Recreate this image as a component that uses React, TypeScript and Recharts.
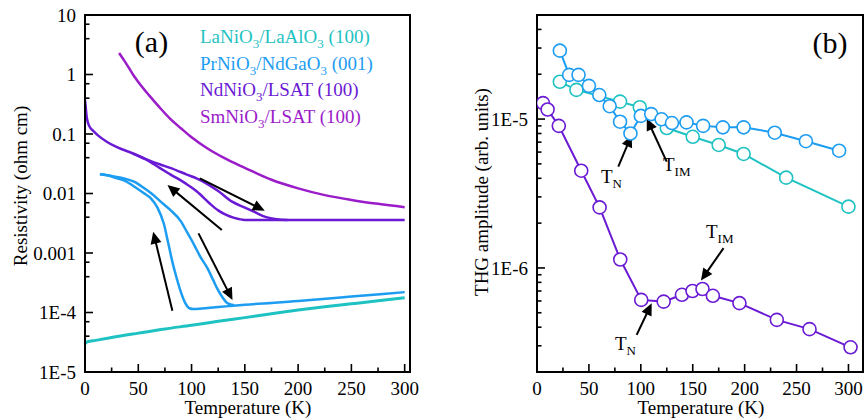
import React from 'react';
import { LineChart, Line, XAxis, YAxis, ReferenceLine, ReferenceArea } from 'recharts';

type P = { T: number; v: number };

// ---------- Panel (a): resistivity ----------
const laNiO3: P[] = [
  { T: 0, v: 3.0e-5 }, { T: 2, v: 3.2e-5 }, { T: 10, v: 3.4e-5 }, { T: 25, v: 3.8e-5 },
  { T: 50, v: 4.5e-5 }, { T: 75, v: 5.3e-5 }, { T: 100, v: 6.1e-5 }, { T: 125, v: 7.1e-5 },
  { T: 150, v: 8.2e-5 }, { T: 175, v: 9.5e-5 }, { T: 200, v: 1.1e-4 }, { T: 225, v: 1.25e-4 },
  { T: 250, v: 1.4e-4 }, { T: 275, v: 1.57e-4 }, { T: 300, v: 1.77e-4 },
];

const prNiO3Cooling: P[] = [
  { T: 14, v: 0.021 }, { T: 20, v: 0.0205 }, { T: 30, v: 0.018 }, { T: 37, v: 0.0165 },
  { T: 45, v: 0.0135 }, { T: 55, v: 0.0102 }, { T: 62, v: 0.0082 }, { T: 68, v: 0.0058 },
  { T: 74, v: 0.0031 }, { T: 78, v: 0.0015 }, { T: 82, v: 7.1e-4 }, { T: 86, v: 3.8e-4 },
  { T: 90, v: 2.2e-4 }, { T: 94, v: 1.45e-4 }, { T: 98, v: 1.18e-4 }, { T: 102, v: 1.14e-4 },
  { T: 110, v: 1.17e-4 }, { T: 135, v: 1.28e-4 }, { T: 150, v: 1.35e-4 }, { T: 200, v: 1.56e-4 },
  { T: 250, v: 1.85e-4 }, { T: 300, v: 2.2e-4 },
];

const prNiO3Warming: P[] = [
  { T: 14, v: 0.021 }, { T: 25, v: 0.0197 }, { T: 35, v: 0.0182 }, { T: 46, v: 0.0158 },
  { T: 55, v: 0.0125 }, { T: 63, v: 0.0098 }, { T: 71, v: 0.0073 }, { T: 80, v: 0.0053 },
  { T: 90, v: 0.0034 }, { T: 96, v: 0.0022 }, { T: 102.5, v: 0.00136 }, { T: 108, v: 8.8e-4 },
  { T: 115, v: 5.5e-4 }, { T: 120, v: 3.6e-4 }, { T: 124, v: 2.55e-4 }, { T: 129, v: 1.8e-4 },
  { T: 134, v: 1.42e-4 }, { T: 140, v: 1.32e-4 },
];

const ndNiO3Cooling: P[] = [
  { T: 0, v: 0.37 }, { T: 0.7, v: 0.28 }, { T: 1.5, v: 0.2 }, { T: 3, v: 0.15 },
  { T: 5, v: 0.127 }, { T: 8, v: 0.112 }, { T: 13, v: 0.092 }, { T: 20, v: 0.075 },
  { T: 30, v: 0.06 }, { T: 45, v: 0.047 }, { T: 60, v: 0.035 }, { T: 70, v: 0.027 },
  { T: 80, v: 0.021 }, { T: 95, v: 0.0145 }, { T: 105, v: 0.0108 }, { T: 117, v: 0.0068 },
  { T: 125, v: 0.0052 }, { T: 132, v: 0.0044 }, { T: 140, v: 0.0039 }, { T: 150, v: 0.0036 },
  { T: 175, v: 0.0036 }, { T: 200, v: 0.0036 }, { T: 250, v: 0.0036 }, { T: 300, v: 0.0036 },
];

const ndNiO3Warming: P[] = [
  { T: 45, v: 0.047 }, { T: 60, v: 0.036 }, { T: 70, v: 0.031 }, { T: 80, v: 0.027 },
  { T: 95, v: 0.021 }, { T: 110, v: 0.0162 }, { T: 125, v: 0.011 }, { T: 138, v: 0.0073 },
  { T: 150, v: 0.0058 }, { T: 160, v: 0.0048 }, { T: 170, v: 0.004 }, { T: 180, v: 0.0037 },
  { T: 190, v: 0.0036 },
];

const smNiO3: P[] = [
  { T: 32, v: 2.3 }, { T: 36, v: 1.8 }, { T: 40, v: 1.4 }, { T: 45, v: 1.0 }, { T: 50, v: 0.75 },
  { T: 60, v: 0.45 }, { T: 70, v: 0.28 }, { T: 80, v: 0.18 }, { T: 90, v: 0.125 }, { T: 100, v: 0.088 },
  { T: 115, v: 0.057 }, { T: 130, v: 0.04 }, { T: 150, v: 0.027 }, { T: 175, v: 0.017 },
  { T: 200, v: 0.0122 }, { T: 225, v: 0.0094 }, { T: 250, v: 0.0078 }, { T: 275, v: 0.0067 },
  { T: 300, v: 0.0059 },
];

// ---------- Panel (b): THG amplitude ----------
const thgLaNiO3: P[] = [
  { T: 22, v: 1.78e-5 }, { T: 38, v: 1.57e-5 }, { T: 80, v: 1.31e-5 }, { T: 99, v: 1.2e-5 },
  { T: 125, v: 8.7e-6 }, { T: 150, v: 7.6e-6 }, { T: 175, v: 6.7e-6 }, { T: 199, v: 5.83e-6 },
  { T: 240, v: 4.04e-6 }, { T: 300, v: 2.58e-6 },
];

const thgPrNiO3: P[] = [
  { T: 22, v: 2.88e-5 }, { T: 31, v: 1.98e-5 }, { T: 40, v: 1.98e-5 }, { T: 50, v: 1.67e-5 },
  { T: 60, v: 1.45e-5 }, { T: 70, v: 1.22e-5 }, { T: 80, v: 9.6e-6 }, { T: 90, v: 8.0e-6 },
  { T: 100, v: 1.05e-5 }, { T: 110, v: 1.08e-5 }, { T: 120, v: 9.96e-6 }, { T: 130, v: 9.4e-6 },
  { T: 144, v: 9.5e-6 }, { T: 160, v: 9.0e-6 }, { T: 179, v: 8.8e-6 }, { T: 199, v: 8.8e-6 },
  { T: 229, v: 8.1e-6 }, { T: 259, v: 7.1e-6 }, { T: 291, v: 6.13e-6 },
];

const thgNdNiO3: P[] = [
  { T: 5.8, v: 1.28e-5 }, { T: 10.2, v: 1.16e-5 }, { T: 21, v: 9.0e-6 }, { T: 42.6, v: 4.5e-6 },
  { T: 60.3, v: 2.55e-6 }, { T: 80.2, v: 1.14e-6 }, { T: 100.4, v: 6.1e-7 }, { T: 122, v: 5.94e-7 },
  { T: 139.6, v: 6.6e-7 }, { T: 149.8, v: 7.0e-7 }, { T: 159.4, v: 7.22e-7 }, { T: 169.4, v: 6.5e-7 },
  { T: 195, v: 5.8e-7 }, { T: 231, v: 4.48e-7 }, { T: 262.5, v: 3.88e-7 }, { T: 302, v: 2.93e-7 },
];

// ---------- ticks ----------
const xTicks = [0, 25, 50, 75, 100, 125, 150, 175, 200, 225, 250, 275, 300];
const xMajorTicks = [0, 50, 100, 150, 200, 250, 300];

const resMajorTicks = [1e-5, 1e-4, 1e-3, 1e-2, 0.1, 1, 10];
const resMajorLabels = ['1E-5', '1E-4', '0.001', '0.01', '0.1', '1', '10'];
const resMinorTicks = [4e-5, 7e-5, 4e-4, 7e-4, 0.004, 0.007, 0.04, 0.07, 0.4, 0.7, 4, 7];

const thgMajorTicks = [1e-6, 1e-5];
const thgMajorLabels = ['1E-6', '1E-5'];
const thgMinorTicks = [
  3e-7, 4e-7, 5e-7, 6e-7, 7e-7, 8e-7, 9e-7,
  2e-6, 3e-6, 4e-6, 5e-6, 6e-6, 7e-6, 8e-6, 9e-6,
  2e-5, 3e-5, 4e-5, 5e-5,
];

// ---------- style ----------
const FONT = '"Liberation Serif", "Times New Roman", serif';
const FS = 19;
const C_LA = '#1fc2c2';
const C_PR = '#1d9df2';
const C_ND = '#6a1ad4';
const C_SM = '#9b1cc9';

const near = (a: number, b: number) => Math.abs(a - b) <= Math.abs(b) * 1e-6;

function makeYTick(majors: number[], labels: string[]) {
  return (props: any) => {
    const { x, y, payload } = props;
    const idx = majors.findIndex((m) => near(payload.value, m));
    const major = idx >= 0;
    return (
      <g>
        <line x1={x} y1={y} x2={x + (major ? 8 : 4.5)} y2={y} stroke="#000" strokeWidth={1.6} />
        {major && (
          <text x={x - 9} y={y} dy="0.35em" textAnchor="end" fontFamily={FONT} fontSize={FS} fill="#000">
            {labels[idx]}
          </text>
        )}
      </g>
    );
  };
}

function XTick(props: any) {
  const { x, y, payload } = props;
  const major = xMajorTicks.includes(payload.value);
  return (
    <g>
      <line x1={x} y1={y} x2={x} y2={y - (major ? 8 : 4.5)} stroke="#000" strokeWidth={1.6} />
      {major && (
        <text x={x} y={y + 23} textAnchor="middle" fontFamily={FONT} fontSize={FS} fill="#000">
          {payload.value}
        </text>
      )}
    </g>
  );
}

const Arrow = (p: any) => {
  const { x1, y1, x2, y2 } = p;
  const dx = x2 - x1;
  const dy = y2 - y1;
  const L = Math.hypot(dx, dy) || 1;
  const ux = dx / L;
  const uy = dy / L;
  const hl = 12;
  const hw = 5.5;
  const bx = x2 - ux * hl;
  const by = y2 - uy * hl;
  const pts = `${x2},${y2} ${bx - uy * hw},${by + ux * hw} ${bx + uy * hw},${by - ux * hw}`;
  return (
    <g>
      <line x1={x1} y1={y1} x2={bx + ux * 2} y2={by + uy * 2} stroke="#000" strokeWidth={2} />
      <polygon points={pts} fill="#000" />
    </g>
  );
};

const resArrows = [
  [{ x: 82, y: 1.07e-4 }, { x: 64, y: 0.00228 }],
  [{ x: 106.5, y: 0.00214 }, { x: 138.4, y: 1.62e-4 }],
  [{ x: 128.4, y: 0.00244 }, { x: 77.4, y: 0.0139 }],
  [{ x: 107.8, y: 0.018 }, { x: 168.7, y: 0.00514 }],
];

const thgArrows = [
  [{ x: 78.3, y: 4.79e-6 }, { x: 91.2, y: 7.82e-6 }],
  [{ x: 124.9, y: 5.18e-6 }, { x: 105.7, y: 1.01e-5 }],
  [{ x: 96, y: 3.55e-7 }, { x: 110.5, y: 5.79e-7 }],
  [{ x: 179.7, y: 1.36e-6 }, { x: 157.9, y: 8.22e-7 }],
];

const lineA = { dot: false, isAnimationActive: false, strokeWidth: 2.5, type: 'monotone' as const, dataKey: 'v' };

function dotStyle(color: string) {
  return { r: 6.5, fill: '#fff', stroke: color, strokeWidth: 1.6 };
}

function Sub({ children }: { children: React.ReactNode }) {
  return null;
}

export default function App() {
  const resTickAll = [...resMajorTicks, ...resMinorTicks].sort((a, b) => a - b);
  const thgTickAll = [...thgMajorTicks, ...thgMinorTicks].sort((a, b) => a - b);

  const legend = [
    { c: C_LA, parts: ['LaNiO', '3', '/LaAlO', '3', ' (100)'] },
    { c: C_PR, parts: ['PrNiO', '3', '/NdGaO', '3', ' (001)'] },
    { c: C_ND, parts: ['NdNiO', '3', '/LSAT (100)'] },
    { c: C_SM, parts: ['SmNiO', '3', '/LSAT (100)'] },
  ];

  return (
    <div style={{ position: 'absolute', left: 0, top: 0, width: 865, height: 418, background: '#fff' }}>
      <div style={{ position: 'absolute', left: 0, top: 0 }}>
        <LineChart width={430} height={418} margin={{ top: 15, right: 20, bottom: 16, left: 25 }}>
          <XAxis
            dataKey="T"
            type="number"
            domain={[0, 305]}
            ticks={xTicks}
            allowDataOverflow
            height={30}
            tickSize={0}
            tickMargin={0}
            tickLine={false}
            axisLine={{ stroke: '#000', strokeWidth: 2 }}
            tick={XTick}
            interval={0}
          />
          <YAxis
            type="number"
            scale="log"
            domain={[1e-5, 10]}
            ticks={resTickAll}
            allowDataOverflow
            width={60}
            tickSize={0}
            tickMargin={0}
            tickLine={false}
            axisLine={{ stroke: '#000', strokeWidth: 2 }}
            tick={makeYTick(resMajorTicks, resMajorLabels)}
            interval={0}
          />
          <Line {...lineA} data={laNiO3} stroke={C_LA} strokeWidth={3} />
          <Line {...lineA} data={prNiO3Cooling} stroke={C_PR} />
          <Line {...lineA} data={prNiO3Warming} stroke={C_PR} />
          <Line {...lineA} data={ndNiO3Cooling} stroke={C_ND} />
          <Line {...lineA} data={ndNiO3Warming} stroke={C_ND} />
          <Line {...lineA} data={smNiO3} stroke={C_SM} />
          {resArrows.map((s, i) => (
            <ReferenceLine key={i} segment={s} shape={Arrow} ifOverflow="visible" />
          ))}
          <ReferenceArea x1={0} x2={305} y1={1e-5} y2={10} fill="none" stroke="#000" strokeWidth={2} ifOverflow="visible" />
        </LineChart>
      </div>

      <div style={{ position: 'absolute', left: 430, top: 0 }}>
        <LineChart width={435} height={418} margin={{ top: 15, right: 2, bottom: 16, left: 47 }}>
          <XAxis
            dataKey="T"
            type="number"
            domain={[0, 314]}
            ticks={xTicks}
            allowDataOverflow
            height={30}
            tickSize={0}
            tickMargin={0}
            tickLine={false}
            axisLine={{ stroke: '#000', strokeWidth: 2 }}
            tick={XTick}
            interval={0}
          />
          <YAxis
            type="number"
            scale="log"
            domain={[2e-7, 5e-5]}
            ticks={thgTickAll}
            allowDataOverflow
            width={60}
            tickSize={0}
            tickMargin={0}
            tickLine={false}
            axisLine={{ stroke: '#000', strokeWidth: 2 }}
            tick={makeYTick(thgMajorTicks, thgMajorLabels)}
            interval={0}
          />
          <Line dataKey="v" data={thgLaNiO3} type="linear" stroke={C_LA} strokeWidth={2} dot={dotStyle(C_LA)} isAnimationActive={false} />
          <Line dataKey="v" data={thgPrNiO3} type="linear" stroke={C_PR} strokeWidth={2} dot={dotStyle(C_PR)} isAnimationActive={false} />
          <Line dataKey="v" data={thgNdNiO3} type="linear" stroke={C_ND} strokeWidth={2} dot={dotStyle(C_ND)} isAnimationActive={false} />
          {thgArrows.map((s, i) => (
            <ReferenceLine key={i} segment={s} shape={Arrow} ifOverflow="visible" />
          ))}
          <ReferenceArea x1={0} x2={314} y1={2e-7} y2={5e-5} fill="none" stroke="#000" strokeWidth={2} ifOverflow="visible" />
        </LineChart>
      </div>

      <svg
        width={865}
        height={418}
        style={{ position: 'absolute', left: 0, top: 0, pointerEvents: 'none' }}
        fontFamily={FONT}
      >
        {/* panel (a) */}
        <text x={151.5} y={52} textAnchor="middle" fontSize={30} fill="#000">(a)</text>
        {legend.map((l, i) => (
          <text key={i} x={200} y={43 + i * 26.7} fontSize={FS} fill={l.c}>
            {l.parts.map((p, j) =>
              p === '3' ? (
                <tspan key={j} fontSize={13} dy={5}>3</tspan>
              ) : (
                <tspan key={j} dy={j > 0 && l.parts[j - 1] === '3' ? -5 : 0}>{p}</tspan>
              )
            )}
          </text>
        ))}
        <text x={20} y={186} transform="rotate(-90 20 186)" textAnchor="middle" dy="0.35em" fontSize={FS} fill="#000">
          Resistivity (ohm cm)
        </text>
        <text x={248} y={414} textAnchor="middle" fontSize={FS} fill="#000">Temperature (K)</text>

        {/* panel (b) */}
        <text x={830} y={53} textAnchor="middle" fontSize={30} fill="#000">(b)</text>
        <text x={481} y={192} transform="rotate(-90 481 192)" textAnchor="middle" dy="0.35em" fontSize={FS} fill="#000">
          THG amplitude (arb. units)
        </text>
        <text x={701} y={414} textAnchor="middle" fontSize={FS} fill="#000">Temperature (K)</text>

        <text x={601} y={183} fontSize={FS} fill="#000">T<tspan fontSize={13} dy={5}>N</tspan></text>
        <text x={663} y={171} fontSize={FS} fill="#000">T<tspan fontSize={13} dy={5}>IM</tspan></text>
        <text x={615} y={350} fontSize={FS} fill="#000">T<tspan fontSize={13} dy={5}>N</tspan></text>
        <text x={706} y={238} fontSize={FS} fill="#000">T<tspan fontSize={13} dy={5}>IM</tspan></text>
      </svg>
    </div>
  );
}
